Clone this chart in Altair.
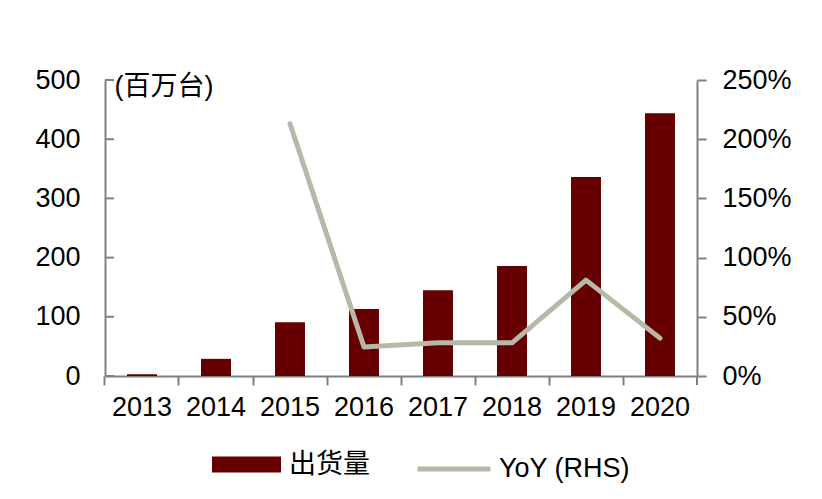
import altair as alt
import pandas as pd

years = ["2013", "2014", "2015", "2016", "2017", "2018", "2019", "2020"]
shipments = [3, 29, 91, 113, 145, 186, 336, 444]
yoy_years = ["2015", "2016", "2017", "2018", "2019", "2020"]
yoy = [2.13, 0.245, 0.28, 0.28, 0.81, 0.32]
left_ticks = [0, 100, 200, 300, 400, 500]
right_ticks = [0, 0.5, 1.0, 1.5, 2.0, 2.5]
bar_name = "出货量"
line_name = "YoY (RHS)"
unit_title = "(百万台)"

FONT = "Liberation Sans, Arial, Noto Sans CJK SC, sans-serif"
GRAY = "#808080"
BAR_COLOR = "#660000"
LINE_COLOR = "#B8B8A8"
W, H = 592, 296
P_INNER = 0.595
TICK = 9

bar_df = pd.DataFrame({"year": years, "v": shipments, "series": bar_name})
line_df = pd.DataFrame({"year": yoy_years, "yoy": yoy, "series": line_name})
lt_df = pd.DataFrame({"t": left_ticks})

# category ticks sit halfway into the gap before each bar
tick_band = -(P_INNER / 2) / (1 - P_INNER)

x_scale = alt.Scale(domain=years, paddingInner=P_INNER, paddingOuter=P_INNER / 2)
x_enc = alt.X(
    "year:N",
    scale=x_scale,
    axis=alt.Axis(
        title=None, labelAngle=0, bandPosition=tick_band, tickSize=TICK, tickWidth=2,
        tickColor=GRAY, domainColor=GRAY, domainWidth=2, labelPadding=9,
        labelFontSize=27, labelColor="black", grid=False,
    ),
)

bars = alt.Chart(bar_df).mark_bar().encode(
    x=x_enc,
    y=alt.Y(
        "v:Q",
        scale=alt.Scale(domain=[0, 500], nice=False),
        axis=alt.Axis(
            orient="left",
            values=left_ticks, title=unit_title, titleAngle=0, titleAlign="left",
            titleBaseline="middle", titleX=9, titleY=6, titleFontSize=27,
            titleFontWeight="normal", titleColor="black", ticks=False,
            labelPadding=25, grid=False, domainColor=GRAY, domainWidth=2,
            labelFontSize=27, labelColor="black",
        ),
    ),
    fill=alt.Fill(
        "series:N",
        scale=alt.Scale(domain=[bar_name], range=[BAR_COLOR]),
        legend=alt.Legend(
            title=None, orient="none", legendX=107, legendY=350, padding=0,
            symbolType="M-1,-0.23H1V0.23H-1Z", symbolSize=4761,
            symbolStrokeWidth=0, labelFontSize=27, labelOffset=8,
            labelColor="black", labelFont=FONT,
        ),
    ),
)

# inward-pointing ticks of the left axis
lticks = alt.Chart(lt_df).mark_rule(color=GRAY, strokeWidth=2).encode(
    y=alt.Y("t:Q", scale=alt.Scale(domain=[0, 500], nice=False), axis=None),
    x=alt.value(0),
    x2=alt.value(TICK),
)

# closing category tick at the right end of the x axis
end_tick = alt.Chart(lt_df.head(1)).mark_rule(color=GRAY, strokeWidth=2).encode(
    x=alt.value(W),
    y=alt.value(H),
    y2=alt.value(H + TICK),
)

line = alt.Chart(line_df).mark_line(
    strokeWidth=5, strokeCap="round", strokeJoin="round"
).encode(
    x=alt.X("year:N", scale=x_scale),
    y=alt.Y(
        "yoy:Q",
        scale=alt.Scale(domain=[0, 2.5], nice=False),
        axis=alt.Axis(
            values=right_ticks, format=".0%", orient="right", title=None,
            ticks=True, tickSize=TICK, tickWidth=2, tickColor=GRAY,
            labelPadding=16, grid=False, domainColor=GRAY,
            domainWidth=2, labelFontSize=27, labelColor="black",
        ),
    ),
    stroke=alt.Stroke(
        "series:N",
        scale=alt.Scale(domain=[line_name], range=[LINE_COLOR]),
        legend=alt.Legend(
            title=None, orient="none", legendX=310, legendY=350, padding=0,
            symbolType="M-1,0H1", symbolSize=5329, symbolStrokeWidth=5,
            labelFontSize=27, labelOffset=6, labelColor="black", labelFont=FONT,
        ),
    ),
)

chart = (
    alt.layer(bars, lticks, end_tick, line)
    .resolve_scale(y="independent")
    .properties(
        width=W, height=H,
        padding={"left": 26, "top": 58, "right": 5, "bottom": 5},
        background="white",
    )
    .configure(font=FONT)
    .configure_view(stroke=None)
)

chart.save("out.html", embed_options={"renderer": "svg", "actions": False})
